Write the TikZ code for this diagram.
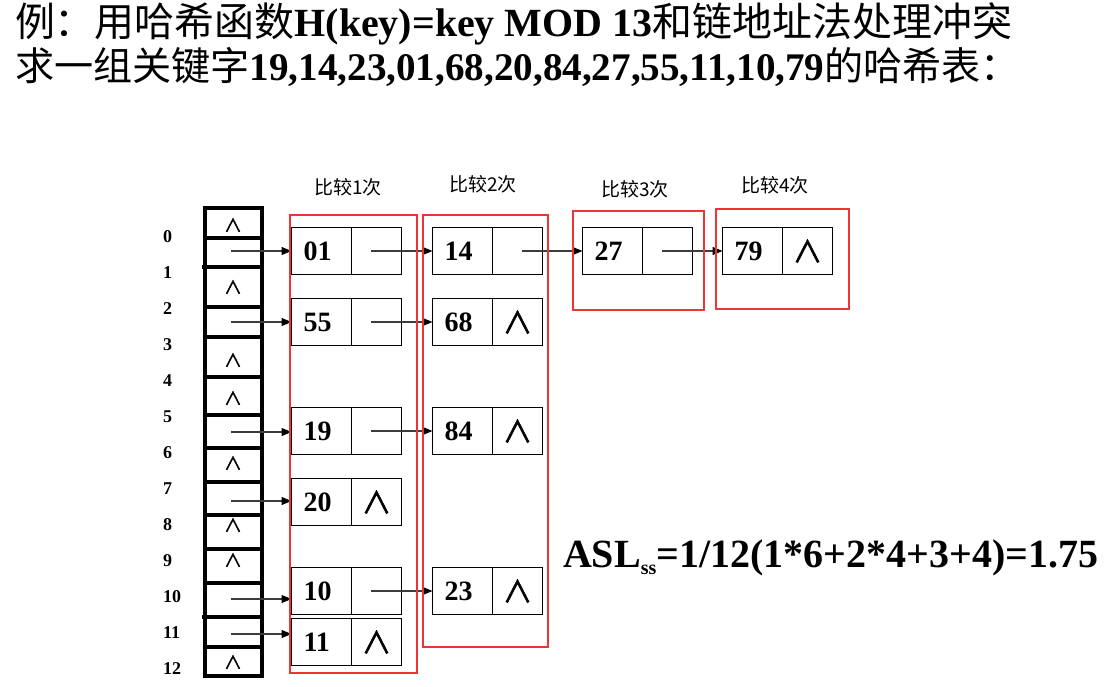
\documentclass[tikz,border=0pt]{standalone}
\usepackage{fontspec}
\usepackage{graphicx}
\setmainfont{Liberation Serif}
\newfontfamily\cjk{Noto Sans CJK SC}
\newfontfamily\nilfont[FakeBold=1.6]{Noto Sans CJK SC}
\usetikzlibrary{arrows.meta,positioning}
\definecolor{boxred}{RGB}{238,52,52}
\definecolor{linkgray}{RGB}{60,60,60}
\newcommand{\nil}{{\nilfont ∧}}

\begin{document}
\begin{tikzpicture}[x=1pt, y=-1pt, outer sep=0pt,
    keycell/.style={draw, line width=1.2pt, minimum width=60pt, minimum height=47pt, inner xsep=12pt, inner ysep=0pt, text width=36pt, align=left, font=\fontsize{28}{28}\selectfont\bfseries},
    ptrcell/.style={draw, line width=1.2pt, minimum width=50pt, minimum height=47pt, inner sep=0pt, font=\fontsize{30}{30}\selectfont},
    link/.style={-{Triangle[length=10pt,width=8pt,color=black]}, draw=linkgray, line width=1.2pt},
    frame/.style={draw=boxred, line width=1.2pt},
    tag/.style={font=\cjk\fontsize{19}{19}\selectfont, inner sep=0pt},
    idx/.style={font=\fontsize{18}{18}\selectfont\bfseries, inner sep=0pt, anchor=west},
    slot/.style={line width=3.5pt}]
  \useasboundingbox (0,0) rectangle (1112,687);

  % title
  \node[anchor=base west, inner sep=0pt] (title1) at (15,37) {\resizebox{997pt}{!}{\cjk\fontsize{40}{40}\selectfont 例：用哈希函数{\rmfamily\bfseries H(key)=key MOD 13}和链地址法处理冲突}};
  \node[anchor=base west, inner sep=0pt] (title2) at (15,81) {\resizebox{1005pt}{!}{\cjk\fontsize{40}{40}\selectfont 求一组关键字{\rmfamily\bfseries 19,14,23,01,68,20,84,27,55,11,10,79}的哈希表：}};

  % hash table
  \draw[slot] (205,208) rectangle (262,676);
  \foreach \y in {238,307,337,377,415,448,482,515,549,583,647}
    \draw[slot] (205,\y) -- (262,\y);
  \foreach \y in {267,617}
    \draw[slot] (202,\y) -- (260,\y);
  \foreach \y in {225,287,360,398,463,525,560,662}
    \node[font=\fontsize{18}{18}\selectfont, inner sep=0pt] (e\y) at (233,\y) {\nil};
  \foreach \i in {0,...,12}
    \node[idx] (i\i) at (163,{237+36*\i}) {\i};

  % chains
  \node[keycell] (n01) at (321.5,251) {01};
  \node[ptrcell, right=0pt of n01] (p01) {};
  \node[keycell, right=31pt of p01] (n14) {14};
  \node[ptrcell, right=0pt of n14] (p14) {};
  \node[keycell, right=40pt of p14] (n27) {27};
  \node[ptrcell, right=0pt of n27] (p27) {};
  \node[keycell, right=30pt of p27] (n79) {79};
  \node[ptrcell, right=0pt of n79] (p79) {\nil};

  \node[keycell] (n55) at (321.5,322) {55};
  \node[ptrcell, right=0pt of n55] (p55) {};
  \node[keycell, right=31pt of p55] (n68) {68};
  \node[ptrcell, right=0pt of n68] (p68) {\nil};

  \node[keycell] (n19) at (321.5,431) {19};
  \node[ptrcell, right=0pt of n19] (p19) {};
  \node[keycell, right=31pt of p19] (n84) {84};
  \node[ptrcell, right=0pt of n84] (p84) {\nil};

  \node[keycell] (n20) at (321.5,502) {20};
  \node[ptrcell, right=0pt of n20] (p20) {\nil};

  \node[keycell] (n10) at (321.5,591) {10};
  \node[ptrcell, right=0pt of n10] (p10) {};
  \node[keycell, right=31pt of p10] (n23) {23};
  \node[ptrcell, right=0pt of n23] (p23) {\nil};

  \node[keycell] (n11) at (321.5,642) {11};
  \node[ptrcell, right=0pt of n11] (p11) {\nil};

  \foreach \y/\k in {251/01,322/55,432/19,501/20,599/10,634/11} {
    \coordinate (s\k) at (231,\y);
    \draw[link] (s\k) -- (s\k -| n\k.west);
  }
  \foreach \a/\b/\s in {01/14/19,55/68/19,19/84/19,10/23/19,14/27/29,27/79/19}
    \draw[link] ([xshift=\s pt]p\a.west) -- (n\b.west);

  % comparison groups
  \draw[frame] (290,215) rectangle (417,673);
  \draw[frame] (423,215) rectangle (548,647);
  \draw[frame] (573,211) rectangle (704,310);
  \draw[frame] (716,209) rectangle (849,309);
  \node[tag] (t1) at (348,187) {比较1次};
  \node[tag] (t2) at (483,184) {比较2次};
  \node[tag] (t3) at (635,189) {比较3次};
  \node[tag] (t4) at (775,185) {比较4次};

  \node[anchor=base west, inner sep=0pt, font=\fontsize{40}{40}\selectfont\bfseries] (asl) at (563,567) {ASL\raisebox{-7pt}{\fontsize{20}{20}\selectfont ss}=1/12(1*6+2*4+3+4)=1.75};
\end{tikzpicture}
\end{document}
